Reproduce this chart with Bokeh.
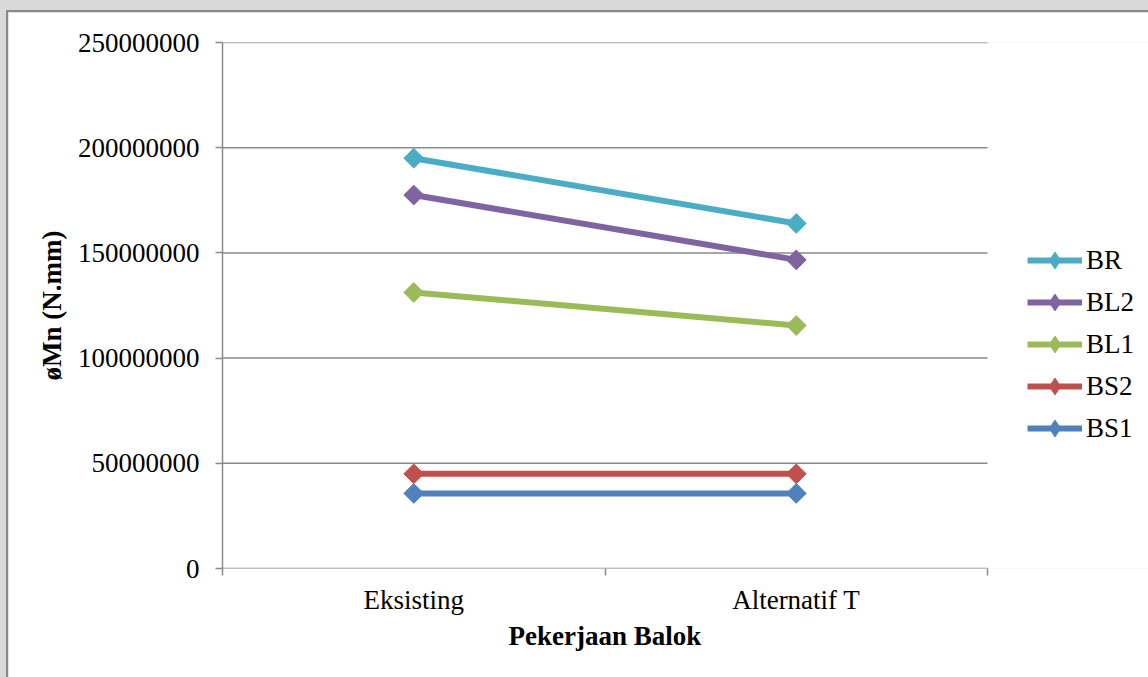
from bokeh.plotting import figure
from bokeh.models import FixedTicker, Legend, LegendItem, Range1d, Title
from bokeh.layouts import column
from bokeh.embed import file_html
from bokeh.resources import INLINE

# Beam work categories on the x axis
categories = ["Eksisting", "Alternatif T"]

# Design moment capacity (N.mm) per beam type
series_names = ["BR", "BL2", "BL1", "BS2", "BS1"]
br = [195000000, 164000000]
bl2 = [177500000, 146700000]
bl1 = [131200000, 115500000]
bs2 = [45000000, 45000000]
bs1 = [35700000, 35700000]
y_ticks = [0, 50000000, 100000000, 150000000, 200000000, 250000000]

series_values = [br, bl2, bl1, bs2, bs1]
series_colors = ["#4BACC6", "#8064A2", "#9BBB59", "#C0504D", "#4F81BD"]

FONT = "Liberation Serif"
GRID = "#8a8a8a"
FS = "27px"

n = len(categories)
# categories sit in the middle of unit-wide slots
x_pos = [i + 0.5 for i in range(n)]

# plot area: 765 px for the category slots, the rest on the right holds the legend
SLOT_PX = 765
FRAME_PX = 928

p = figure(
    width=1142, height=667,
    x_range=Range1d(0, n * FRAME_PX / SLOT_PX),
    y_range=Range1d(y_ticks[0], y_ticks[-1]),
    output_backend="svg", toolbar_location=None,
    min_border_left=214, min_border_top=30,
    min_border_right=0, min_border_bottom=111,
    border_fill_color="white", background_fill_color="white",
    outline_line_color=None,
)
p.margin = (10, 0, 0, 6)
p.styles = {"border-left": "2px solid #8a8a8a", "border-top": "2px solid #8a8a8a"}

# x axis: labels at slot centres, tick marks at slot boundaries
p.xaxis.ticker = FixedTicker(ticks=x_pos, minor_ticks=list(range(n + 1)))
p.xaxis.major_label_overrides = {x: c for x, c in zip(x_pos, categories)}
p.xaxis.axis_line_color = None
p.xaxis.major_tick_out = 0
p.xaxis.major_tick_in = 0
p.xaxis.minor_tick_out = 7
p.xaxis.minor_tick_in = 0
p.xaxis.minor_tick_line_color = GRID
p.xaxis.minor_tick_line_width = 1.5
p.xaxis.major_label_standoff = 9

# y axis
p.yaxis.ticker = FixedTicker(ticks=y_ticks, minor_ticks=[])
p.yaxis.major_label_overrides = {t: str(t) for t in y_ticks}
p.yaxis.major_tick_out = 7
p.yaxis.major_tick_in = 0
p.yaxis.axis_line_color = GRID
p.yaxis.axis_line_width = 1.5
p.yaxis.axis_label = "øMn (N.mm)"
p.yaxis.axis_label_text_font = FONT
p.yaxis.axis_label_text_font_size = FS
p.yaxis.axis_label_text_font_style = "bold"
p.yaxis.axis_label_text_color = "black"
p.yaxis.major_label_standoff = 16
p.yaxis.axis_label_standoff = 8

for ax in (p.xaxis, p.yaxis):
    ax.major_tick_line_color = GRID
    ax.major_tick_line_width = 1.5
    ax.major_label_text_font = FONT
    ax.major_label_text_font_size = FS
    ax.major_label_text_color = "black"

# x axis title, centred under the category slots
xtitle = Title(text="Pekerjaan Balok", align="left", offset=286, standoff=2,
               text_font=FONT, text_font_size=FS, text_font_style="bold",
               text_color="black")
p.add_layout(xtitle, "below")

# horizontal gridlines across the category slots (the 0 line is the x axis)
p.xgrid.grid_line_color = None
p.ygrid.grid_line_color = None
p.segment(x0=[0] * len(y_ticks), x1=[n] * len(y_ticks), y0=y_ticks, y1=y_ticks,
          line_color=GRID, line_width=1.5)

items = []
for name, vals, col in zip(series_names, series_values, series_colors):
    ln = p.line(x_pos, vals, line_color=col, line_width=6)
    # diamond swatch for the legend, sitting under the point markers
    key = p.scatter(x_pos, vals, marker="diamond", size=16,
                    fill_color=col, line_color=col)
    p.scatter(x_pos, vals, marker="square", size=14, angle=0.785398,
              fill_color=col, line_color=col)
    items.append(LegendItem(label=name, renderers=[ln, key]))

legend = Legend(
    items=items, location=(805, 119),
    glyph_width=55, glyph_height=42, label_height=26,
    spacing=0, label_standoff=4, padding=0, margin=0,
    border_line_color=None, background_fill_alpha=0,
    label_text_font=FONT, label_text_font_size=FS, label_text_color="black",
)
p.add_layout(legend, "center")

page = column(p, width=1148, height=677,
              styles={"background-color": "#d9d9d9", "overflow": "hidden"})

open("out.html", "w").write(file_html(page, INLINE))
